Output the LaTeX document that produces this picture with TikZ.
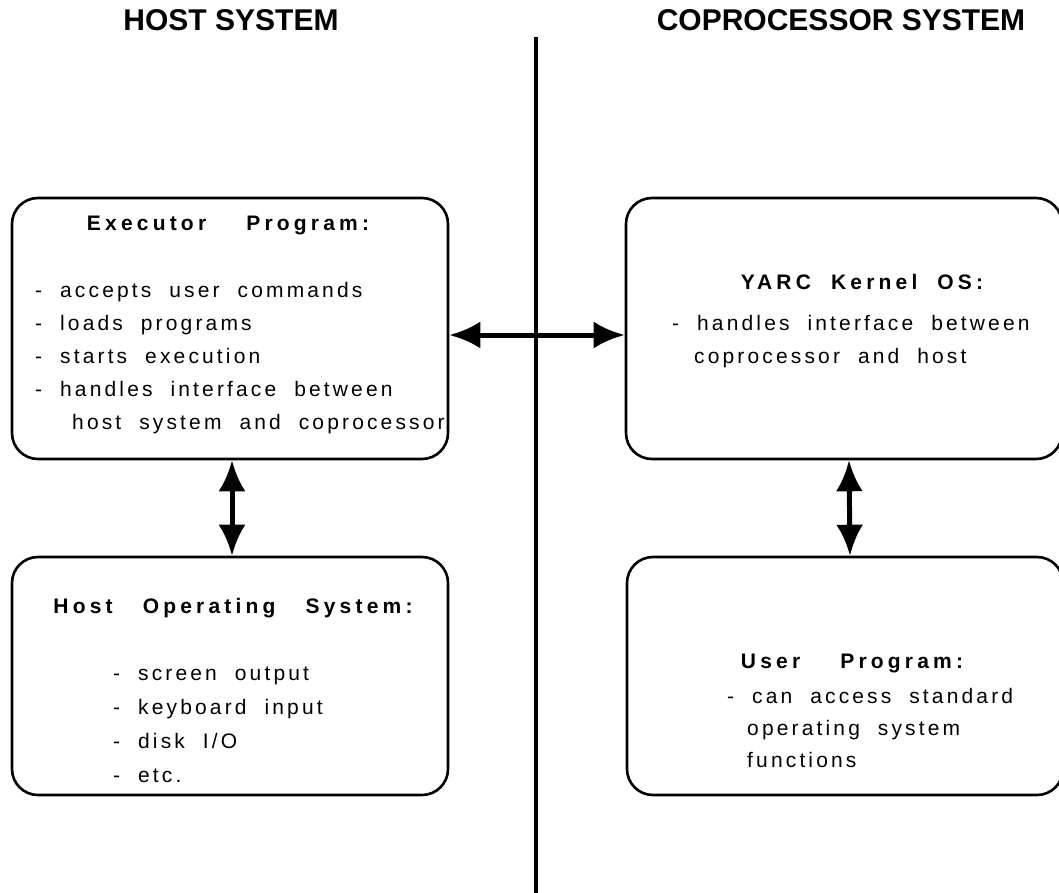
\documentclass[tikz,border=0pt]{standalone}
\usepackage{fontspec}
\setmainfont{Liberation Sans}
\newfontfamily\listfont[LetterSpace=15,WordSpace=2]{Liberation Sans}
\newfontfamily\headfont[LetterSpace=20,WordSpace=2]{Liberation Sans}
\usetikzlibrary{arrows.meta,positioning}

\tikzset{
  box/.style={draw,line width=2.6pt,rounded corners=26pt,minimum width=436pt},
  boxhead/.style={font=\headfont\bfseries\fontsize{21}{33}\selectfont,anchor=base,inner sep=0pt},
  % base of a multi-line node is the baseline of its last line
  boxtext/.style={font=\listfont\fontsize{21}{33}\selectfont,align=left,anchor=base west,inner sep=0pt},
  title/.style={font=\bfseries\fontsize{30}{36}\selectfont,anchor=base,inner sep=0pt},
  link/.style={{Latex[length=31pt,width=27pt]}-{Latex[length=31pt,width=27pt]},line width=5pt},
}

\begin{document}
\begin{tikzpicture}[x=1pt,y=-1pt]
	\useasboundingbox (0,0) rectangle (1059,893);
	% column titles and the line between them
	\node[title]	(hosttitle)	at (231,31)	{HOST SYSTEM};
	\node[title]	(coptitle)	at (841,31)	{COPROCESSOR SYSTEM};
	\coordinate	(divtop)	at (536,37);
	\coordinate	(divbot)	at (536,893);
	\draw[line width=4.5pt] (divtop) -- (divbot);

	% boxes
	\node[box,minimum height=261pt]	(exec)		at (230,328.5)	{};
	\node[box,minimum height=261pt]	(kernel)	at (844,328.5)	{};
	\node[box,minimum height=238pt]	(hostos)	at (230,676)	{};
	\node[box,minimum height=238pt]	(user)		at (845,676)	{};

	% box contents
	\node[boxhead]	(exechead)	at (228,231)	{Executor~~Program:};
	\node[boxtext]	(exectext)	at (35,429)	{- accepts user commands\\- loads programs\\- starts execution\\- handles interface between\\\hspace*{37pt}host system and coprocessor};
	\node[boxhead]	(kernelhead)	at (862,289)	{YARC Kernel OS:};
	\node[boxtext]	(kerneltext)	at (672,363)	{- handles interface between\\\hspace*{22pt}coprocessor and host};
	\node[boxhead]	(hostoshead)	at (233,613)	{Host\hspace{10pt} Operating\hspace{10pt} System:};
	\node[boxtext,font=\listfont\fontsize{21}{34}\selectfont]	(hostostext)	at (113,782)	{- screen output\\- keyboard input\\- disk I/O\\- etc.};
	\node[boxhead]	(userhead)	at (852,668)	{User~~Program:};
	\node[boxtext,font=\listfont\fontsize{21}{32}\selectfont]	(usertext)	at (727,767)	{- can access standard\\\hspace*{20pt}operating system\\\hspace*{20pt}functions};

	% links
	\draw[link] ([yshift=-6.5pt]exec.east) -- ([yshift=-6.5pt]kernel.west);
	\draw[link] ([xshift=2pt]exec.south) -- ([xshift=2pt]hostos.north);
	\draw[link] ([xshift=5pt]kernel.south) -- ([xshift=5pt]user.north);
\end{tikzpicture}
\end{document}
